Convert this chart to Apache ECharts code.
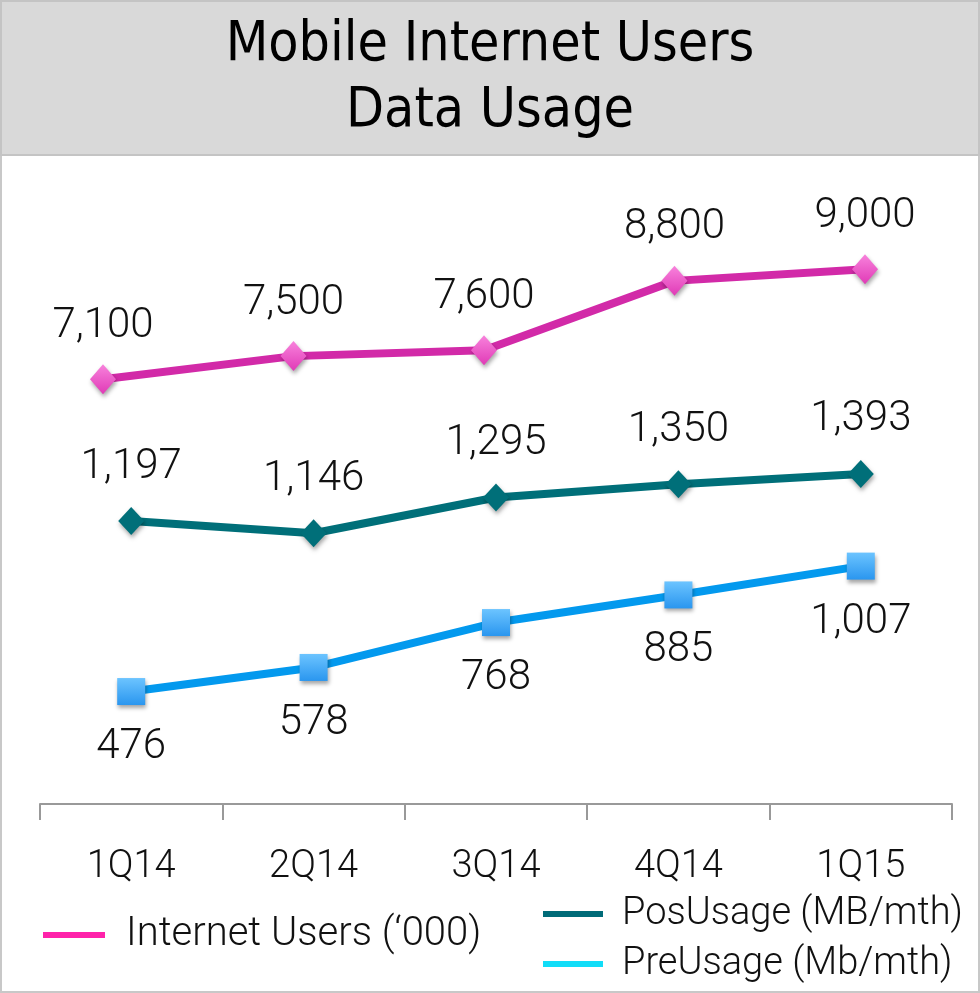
<!DOCTYPE html>
<html>
<head>
<meta charset="utf-8">
<script src="https://cdn.jsdelivr.net/npm/echarts@6/dist/echarts.min.js"></script>
<style>
  html, body { margin: 0; padding: 0; background: #fff; }
  #chart { width: 980px; height: 993px; }
</style>
</head>
<body>
<div id="chart"></div>
<script>
// ---- data ----
const categories = ['1Q14', '2Q14', '3Q14', '4Q14', '1Q15'];
const internetUsers = [7100, 7500, 7600, 8800, 9000];
const posUsage = [1197, 1146, 1295, 1350, 1393];
const preUsage = [476, 578, 768, 885, 1007];
const seriesNames = ['Internet Users (‘000)', 'PosUsage (MB/mth)', 'PreUsage (Mb/mth)'];
const titleText = 'Mobile Internet Users\nData Usage';

const chart = echarts.init(document.getElementById('chart'), null, { renderer: 'canvas' });
const lightFont = 'Roboto, "Open Sans", sans-serif';
const narrowFont = '"Liberation Sans Narrow", "DejaVu Sans Condensed", Roboto, sans-serif';
const fmt = p => Number(p.value).toLocaleString('en-US');

const labelCommon = {
  show: true, position: 'inside', color: '#111', fontFamily: lightFont, fontWeight: 300,
  fontSize: 42, textBorderWidth: 0, formatter: fmt
};
const shadow = { shadowBlur: 4, shadowOffsetX: 1, shadowOffsetY: 3, shadowColor: 'rgba(0,0,0,0.35)' };

chart.setOption({
  animation: false,
  backgroundColor: '#fff',
  graphic: [
    { type: 'rect', z: -10, shape: { x: 1, y: 1, width: 978, height: 991 }, style: { fill: '#fff', stroke: '#c8c8c8', lineWidth: 2 } },
    { type: 'rect', z: -9, shape: { x: 1, y: 1, width: 978, height: 154 }, style: { fill: '#d9d9d9', stroke: '#c4c4c4', lineWidth: 2 } }
  ],
  title: {
    text: titleText, left: 'center', top: 8,
    textStyle: { fontFamily: narrowFont, fontWeight: 'normal', fontSize: 55, lineHeight: 66, color: '#000' }
  },
  legend: [
    {
      data: [{ name: seriesNames[0], itemStyle: { color: '#ff22aa' } }],
      left: 38, top: 910, icon: 'rect', itemWidth: 62, itemHeight: 6, itemGap: 10,
      textStyle: { fontFamily: lightFont, fontWeight: 300, fontSize: 40, color: '#111', padding: [0, 0, 0, 16] }
    },
    {
      data: [
        { name: seriesNames[1], itemStyle: { color: '#006b78' } },
        { name: seriesNames[2], itemStyle: { color: '#11ddf8' } }
      ],
      orient: 'vertical', left: 538, top: 890, icon: 'rect', itemWidth: 60, itemHeight: 6, itemGap: 12,
      textStyle: { fontFamily: lightFont, fontWeight: 300, fontSize: 38, color: '#111', padding: [0, 0, 0, 14] }
    }
  ],
  grid: [
    { left: 40, right: 28, top: 160, bottom: 189 },
    { left: 103, right: 115, top: 160, bottom: 189 }
  ],
  xAxis: [
    {
      type: 'category', gridIndex: 0, data: categories, boundaryGap: true,
      axisLine: { lineStyle: { color: '#999', width: 2 } },
      axisTick: { show: true, length: 16, lineStyle: { color: '#999', width: 2 } },
      axisLabel: { color: '#111', fontFamily: lightFont, fontWeight: 300, fontSize: 38, margin: 44 }
    },
    { type: 'category', gridIndex: 1, data: categories, boundaryGap: false, show: false }
  ],
  yAxis: [
    { type: 'value', gridIndex: 1, min: -237, max: 10888, show: false, splitLine: { show: false } },
    { type: 'value', gridIndex: 0, min: 18, max: 2701, show: false, splitLine: { show: false } },
    { type: 'value', gridIndex: 0, min: 0, max: 2726, show: false, splitLine: { show: false } }
  ],
  series: [
    {
      name: seriesNames[0], type: 'line', xAxisIndex: 1, yAxisIndex: 0, data: internetUsers,
      symbol: 'diamond', symbolSize: [26, 30],
      lineStyle: { color: '#d22aa8', width: 8 },
      itemStyle: Object.assign({
        color: new echarts.graphic.LinearGradient(0, 0, 0, 1, [
          { offset: 0, color: '#f882dc' }, { offset: 1, color: '#e03ab6' }
        ])
      }, shadow),
      label: Object.assign({}, labelCommon, { offset: [0, -53] })
    },
    {
      name: seriesNames[1], type: 'line', xAxisIndex: 0, yAxisIndex: 1, data: posUsage,
      symbol: 'diamond', symbolSize: [26, 28],
      lineStyle: { color: '#006f79', width: 8 },
      itemStyle: Object.assign({ color: '#006f79' }, shadow),
      label: Object.assign({}, labelCommon, { offset: [0, -54] })
    },
    {
      name: seriesNames[2], type: 'line', xAxisIndex: 0, yAxisIndex: 2, data: preUsage,
      symbol: 'rect', symbolSize: [28, 27],
      lineStyle: { color: '#0399ee', width: 8 },
      itemStyle: Object.assign({
        color: new echarts.graphic.LinearGradient(0, 0, 0, 1, [
          { offset: 0, color: '#6cc4ff' }, { offset: 1, color: '#2a96ef' }
        ])
      }, shadow),
      label: Object.assign({}, labelCommon, { offset: [0, 56] })
    }
  ]
});
</script>
</body>
</html>
